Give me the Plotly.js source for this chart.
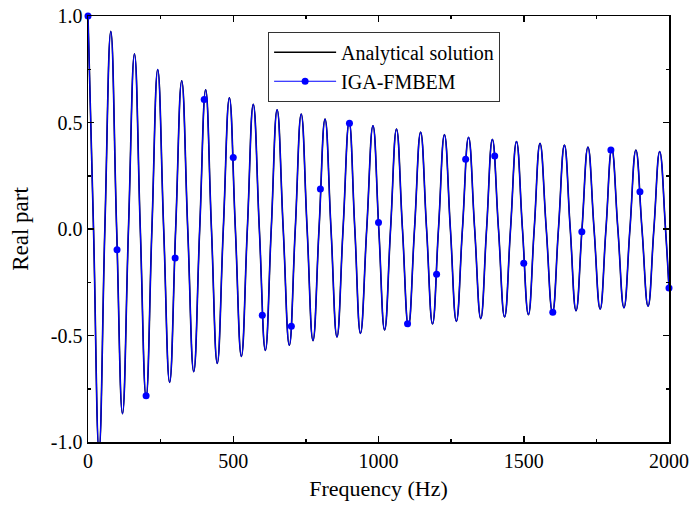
<!DOCTYPE html>
<html>
<head>
<meta charset="utf-8">
<script src="https://cdn.plot.ly/plotly-3.0.1.min.js"></script>
<style>html,body{margin:0;padding:0;background:#fff;}#chart{width:692px;height:508px;}</style>
</head>
<body>
<div id="chart"></div>
<script>
// Frequency points (Hz) of the analytical curve: read extrema and zero crossings
var freq = [0, 19, 38, 58, 78.5, 98.6, 118.7, 139.3, 160, 180, 200, 220, 240, 260.5, 281, 301.8, 322.6, 343.3, 364, 384.5,
  405, 425, 445, 465.8, 486.7, 507.3, 528, 548.5, 569, 589.8, 610.5, 630.8, 651, 672, 693, 713.5, 734, 754.3, 774.5, 795.3,
  816, 836.5, 857, 878, 899, 918.5, 938, 959.5, 981, 1001, 1021, 1041.5, 1062, 1082.5, 1103, 1124, 1145, 1165.5, 1186, 1206.5,
  1227, 1247.5, 1268, 1289, 1310, 1331, 1352, 1372, 1392, 1413, 1434, 1454.5, 1475, 1495.5, 1516, 1536, 1556, 1577.5, 1599, 1619.5,
  1640, 1660, 1680, 1700.5, 1721, 1742, 1763, 1783, 1803, 1824, 1845, 1865.5, 1886, 1907, 1928, 1948, 1968, 1988, 2000];
var analytical = [1.0, 0, -1.04, 0, 0.928, 0, -0.867, 0, 0.822, 0, -0.79, 0, 0.749, 0, -0.72, 0, 0.696, 0, -0.67, 0,
  0.653, 0, -0.631, 0, 0.616, 0, -0.598, 0, 0.585, 0, -0.57, 0, 0.56, 0, -0.546, 0, 0.54, 0, -0.524, 0,
  0.516, 0, -0.507, 0, 0.502, 0, -0.49, 0, 0.485, 0, -0.474, 0, 0.469, 0, -0.457, 0, 0.455, 0, -0.446, 0,
  0.443, 0, -0.434, 0, 0.431, 0, -0.421, 0, 0.421, 0, -0.413, 0, 0.411, 0, -0.402, 0, 0.402, 0, -0.394, 0,
  0.394, 0, -0.384, 0, 0.385, 0, -0.376, 0, 0.376, 0, -0.37, 0, 0.371, 0, -0.363, 0, 0.364, 0, -0.28];

// IGA-FMBEM sample points
var igaFreq = [0, 100, 200, 300, 400, 500, 600, 700, 800, 900, 1000, 1100, 1200, 1300, 1400, 1500, 1600, 1700, 1800, 1900, 2000];
var igaVal = [1.0, -0.097, -0.783, -0.136, 0.608, 0.336, -0.405, -0.457, 0.188, 0.496, 0.031, -0.445, -0.213, 0.328, 0.343,
  -0.161, -0.391, -0.013, 0.371, 0.175, -0.277];

var xTickVals = [0, 500, 1000, 1500, 2000];
var xTickText = ["0", "500", "1000", "1500", "2000"];
var yTickVals = [-1.0, -0.5, 0.0, 0.5, 1.0];
var yTickText = ["-1.0", "-0.5", "0.0", "0.5", "1.0"];

// marker trace with gaps so that no segments join the samples
var mx = [], my = [];
for (var i = 0; i < igaFreq.length; i++) {
  mx.push(igaFreq[i]); my.push(igaVal[i]);
  if (i < igaFreq.length - 1) { mx.push(igaFreq[i]); my.push(null); }
}

var font = '"Liberation Serif", "Times New Roman", Times, serif';

var traces = [
  {x: freq, y: analytical, type: 'scatter', mode: 'lines', name: 'Analytical solution',
   line: {color: '#000000', width: 1.6, shape: 'spline', smoothing: 1.3}},
  {x: freq, y: analytical, type: 'scatter', mode: 'lines', name: 'IGA-FMBEM', showlegend: false, legendgroup: 'iga',
   line: {color: '#0000ff', width: 1.2, shape: 'spline', smoothing: 1.3}},
  {x: mx, y: my, type: 'scatter', mode: 'lines+markers', name: 'IGA-FMBEM', legendgroup: 'iga', connectgaps: false,
   line: {color: '#0000ff', width: 1.2}, marker: {color: '#0000ff', size: 7, symbol: 'circle'}, cliponaxis: false}
];

var layout = {
  width: 692, height: 508,
  margin: {l: 88, r: 23, t: 16, b: 66},
  paper_bgcolor: '#ffffff', plot_bgcolor: '#ffffff',
  font: {family: font, color: '#000', size: 20},
  showlegend: true,
  legend: {x: 0.31, y: 0.963, xanchor: 'left', yanchor: 'top', bgcolor: '#ffffff', bordercolor: '#333', borderwidth: 1,
           font: {family: font, size: 20, color: '#000'}, tracegroupgap: 0, itemwidth: 62},
  xaxis: {range: [0, 2000], tickmode: 'array', tickvals: xTickVals, ticktext: xTickText,
          ticks: 'inside', ticklen: 6, tickwidth: 1.5, tickcolor: '#000', showline: true, linewidth: 1.5, linecolor: '#000',
          mirror: 'ticks', showgrid: false, zeroline: false, tickfont: {size: 20, family: font},
          minor: {tickmode: 'array', tickvals: [250, 750, 1250, 1750], ticks: 'inside', ticklen: 3, tickwidth: 1.5, tickcolor: '#000', showgrid: false},
          title: {text: 'Frequency (Hz)', font: {size: 22, family: font}, standoff: 10}},
  yaxis: {range: [-1, 1], tickmode: 'array', tickvals: yTickVals, ticktext: yTickText,
          ticks: 'inside', ticklen: 6, tickwidth: 1.5, tickcolor: '#000', showline: true, linewidth: 1.5, linecolor: '#000',
          mirror: 'ticks', showgrid: false, zeroline: false, tickfont: {size: 20, family: font},
          minor: {tickmode: 'array', tickvals: [-0.75, -0.25, 0.25, 0.75], ticks: 'inside', ticklen: 3, tickwidth: 1.5, tickcolor: '#000', showgrid: false},
          title: {text: 'Real part', font: {size: 23, family: font}, standoff: 16}}
};

Plotly.newPlot('chart', traces, layout, {displayModeBar: false, staticPlot: true});
</script>
</body>
</html>
